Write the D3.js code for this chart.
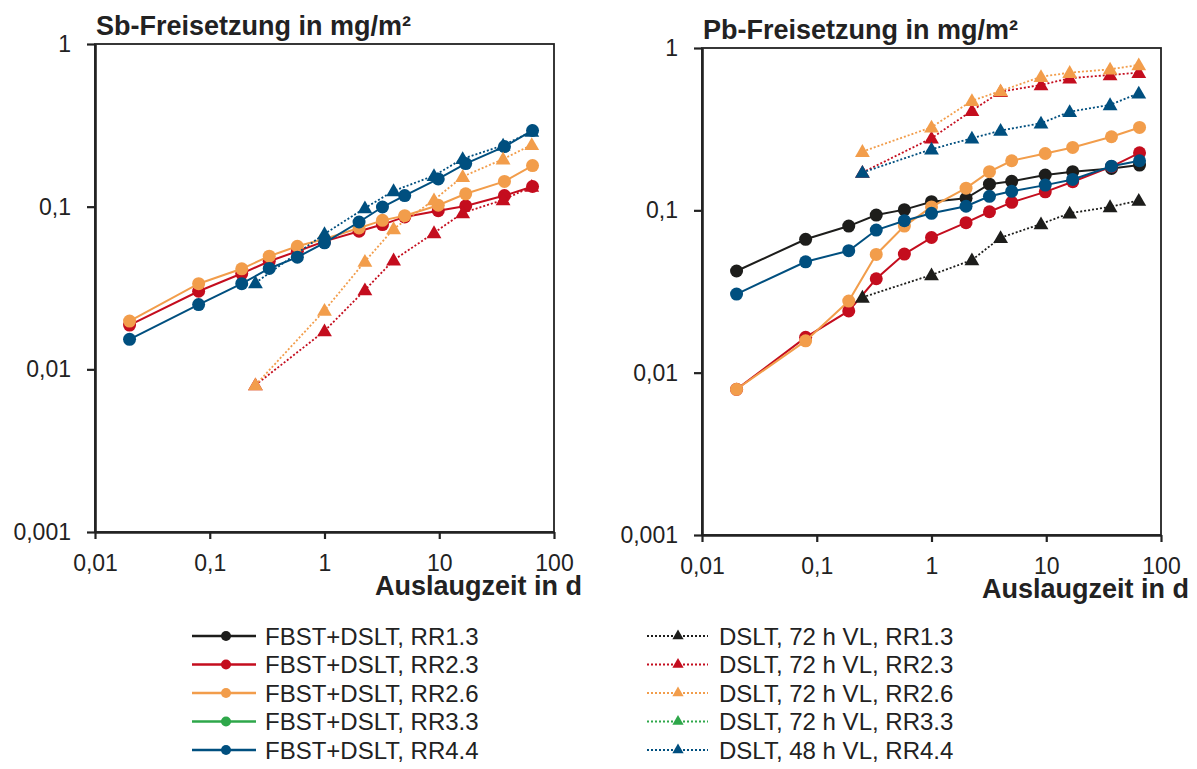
<!DOCTYPE html>
<html lang="de">
<head>
<meta charset="UTF-8">
<title>Sb- und Pb-Freisetzung</title>
<script src="https://d3js.org/d3.v7.min.js"></script>
<style>
    body { margin: 0; background: #fff; }
    svg text { font-family: "Liberation Sans", Arial, sans-serif; fill: #222; }
    .tick text { font-size: 23px; }
    .panel-title, .x-title { font-size: 27px; font-weight: bold; }
    .legend text { font-size: 24px; }
</style>
</head>
<body>
<svg id="chart" width="1197" height="769"></svg>
<script>
// time axis (days)
const tFbst = [0.02, 0.08, 0.19, 0.33, 0.58, 1, 2, 3.2, 5, 9.8, 17, 37, 65];
const tDslt = [0.25, 1, 2.25, 4, 9, 16, 36, 64];

const xTicks = [0.01, 0.1, 1, 10, 100];
const yTicks = [0.001, 0.01, 0.1, 1];

// Sb release, mg/m²
const sbFbst23 = [0.0187, 0.0302, 0.0388, 0.0462, 0.0532, 0.0612, 0.0706, 0.0776, 0.0865, 0.0945, 0.101, 0.117, 0.133];
const sbFbst26 = [0.0198, 0.0336, 0.0415, 0.0496, 0.0571, 0.0633, 0.074, 0.0824, 0.088, 0.102, 0.12, 0.143, 0.179];
const sbFbst44 = [0.0153, 0.025, 0.0336, 0.0417, 0.0489, 0.0599, 0.0805, 0.0995, 0.117, 0.148, 0.184, 0.234, 0.294];
const sbDslt23 = [0.008, 0.0172, 0.0307, 0.0469, 0.069, 0.0915, 0.110, 0.133];
const sbDslt26 = [0.008, 0.023, 0.046, 0.073, 0.110, 0.153, 0.196, 0.240];
const sbDslt44 = [0.034, 0.068, 0.098, 0.125, 0.155, 0.197, 0.238, 0.29];

// Pb release, mg/m²
const pbFbst13 = [0.0423, 0.0663, 0.080, 0.0935, 0.101, 0.113, 0.1186, 0.145, 0.151, 0.165, 0.173, 0.181, 0.19];
const pbFbst23 = [0.0079, 0.0165, 0.024, 0.0379, 0.0538, 0.068, 0.084, 0.098, 0.112, 0.130, 0.150, 0.186, 0.226];
const pbFbst26 = [0.0079, 0.0157, 0.0276, 0.0535, 0.080, 0.105, 0.137, 0.173, 0.202, 0.224, 0.244, 0.284, 0.324];
const pbFbst44 = [0.0305, 0.0482, 0.0564, 0.0756, 0.0863, 0.0959, 0.106, 0.122, 0.131, 0.143, 0.155, 0.187, 0.202];
const pbDslt13 = [0.0291, 0.040, 0.0494, 0.0678, 0.0824, 0.096, 0.105, 0.115];
const pbDslt23 = [0.171, 0.278, 0.411, 0.538, 0.592, 0.651, 0.682, 0.705];
const pbDslt26 = [0.230, 0.325, 0.473, 0.543, 0.665, 0.705, 0.739, 0.786];
const pbDslt44 = [0.171, 0.238, 0.278, 0.310, 0.344, 0.405, 0.446, 0.526];

const legendLeft = ["FBST+DSLT, RR1.3", "FBST+DSLT, RR2.3", "FBST+DSLT, RR2.6", "FBST+DSLT, RR3.3", "FBST+DSLT, RR4.4"];
const legendRight = ["DSLT, 72 h VL, RR1.3", "DSLT, 72 h VL, RR2.3", "DSLT, 72 h VL, RR2.6", "DSLT, 72 h VL, RR3.3", "DSLT, 48 h VL, RR4.4"];

const colors = {
    rr13: "#1d1d1b",
    rr23: "#c40d1e",
    rr26: "#f29d4b",
    rr33: "#2ea74a",
    rr44: "#004f7f"
};
const legendColors = [colors.rr13, colors.rr23, colors.rr26, colors.rr33, colors.rr44];

const svg = d3.select("#chart");
const fmt = d => String(d).replace(".", ",");
const triangle = d3.symbol().type(d3.symbolTriangle);

function drawPanel(p) {
    let x = d3.scaleLog().domain([0.01, 100]).range([p.left, p.right]);
    let y = d3.scaleLog().domain([0.001, 1]).range([p.bottom, p.top]);
    let g = svg.append("g");

    // frame (top/right)
    g.append("rect")
        .attr("x", p.left).attr("y", p.top)
        .attr("width", p.right - p.left).attr("height", p.bottom - p.top)
        .attr("fill", "none").attr("stroke", "#222").attr("stroke-width", 1.8);

    let yAxis = g.append("g")
        .attr("transform", "translate(" + p.left + ",0)")
        .call(d3.axisLeft(y).tickValues(yTicks).tickFormat(fmt).tickSize(8).tickSizeOuter(0).tickPadding(16));
    let xAxis = g.append("g")
        .attr("transform", "translate(0," + p.bottom + ")")
        .call(d3.axisBottom(x).tickValues(xTicks).tickFormat(fmt).tickSize(7).tickSizeOuter(0).tickPadding(16));
    [xAxis, yAxis].forEach(a => {
        a.select(".domain").attr("stroke", "#222").attr("stroke-width", 2.6);
        a.selectAll(".tick line").attr("stroke", "#222").attr("stroke-width", 2.2);
        a.selectAll(".tick text").attr("fill", "#222");
    });

    g.append("text").attr("class", "panel-title")
        .attr("x", p.left + 1).attr("y", p.top - 9)
        .text(p.title);
    g.append("text").attr("class", "x-title")
        .attr("x", p.right + 28).attr("y", p.bottom + 63)
        .attr("text-anchor", "end")
        .text("Auslaugzeit in d");

    let line = d3.line().x(d => x(d[0])).y(d => y(d[1]));

    // solid series with circles
    p.fbst.forEach(s => {
        let pts = tFbst.map((t, i) => [t, s.values[i]]);
        g.append("path").datum(pts).attr("d", line)
            .attr("fill", "none").attr("stroke", s.color).attr("stroke-width", 2);
        g.selectAll(null).data(pts).enter().append("circle")
            .attr("cx", d => x(d[0])).attr("cy", d => y(d[1])).attr("r", 6.5)
            .attr("fill", s.color);
    });

    // dotted series with triangles
    p.dslt.forEach(s => {
        let pts = tDslt.map((t, i) => [t, s.values[i]]);
        g.append("path").datum(pts).attr("d", line)
            .attr("fill", "none").attr("stroke", s.color).attr("stroke-width", 1.8)
            .attr("stroke-dasharray", "2,2");
        g.selectAll(null).data(pts).enter().append("path")
            .attr("d", triangle.size(95))
            .attr("transform", d => "translate(" + x(d[0]) + "," + (y(d[1]) + 1) + ")")
            .attr("fill", s.color);
    });
}

drawPanel({
    left: 95, right: 554, top: 44, bottom: 532,
    title: "Sb-Freisetzung in mg/m²",
    fbst: [
        {color: colors.rr23, values: sbFbst23},
        {color: colors.rr26, values: sbFbst26},
        {color: colors.rr44, values: sbFbst44}
    ],
    dslt: [
        {color: colors.rr23, values: sbDslt23},
        {color: colors.rr26, values: sbDslt26},
        {color: colors.rr44, values: sbDslt44}
    ]
});

drawPanel({
    left: 702, right: 1161, top: 48, bottom: 535,
    title: "Pb-Freisetzung in mg/m²",
    fbst: [
        {color: colors.rr13, values: pbFbst13},
        {color: colors.rr23, values: pbFbst23},
        {color: colors.rr26, values: pbFbst26},
        {color: colors.rr44, values: pbFbst44}
    ],
    dslt: [
        {color: colors.rr13, values: pbDslt13},
        {color: colors.rr23, values: pbDslt23},
        {color: colors.rr26, values: pbDslt26},
        {color: colors.rr44, values: pbDslt44}
    ]
});

// legend
let legend = svg.append("g").attr("class", "legend");
let rowY = d3.scalePoint().domain(d3.range(5)).range([636, 750]);

let leftItems = legend.selectAll(".leg-l").data(legendLeft).enter()
    .append("g").attr("class", "leg-l")
    .attr("transform", (d, i) => "translate(0," + rowY(i) + ")");
leftItems.append("line").attr("x1", 192).attr("x2", 256)
    .attr("stroke", (d, i) => legendColors[i]).attr("stroke-width", 2.5);
leftItems.append("circle").attr("cx", 226).attr("r", 5)
    .attr("fill", (d, i) => legendColors[i]);
leftItems.append("text").attr("x", 265).attr("dy", "0.36em").text(d => d);

let rightItems = legend.selectAll(".leg-r").data(legendRight).enter()
    .append("g").attr("class", "leg-r")
    .attr("transform", (d, i) => "translate(0," + rowY(i) + ")");
rightItems.append("line").attr("x1", 647).attr("x2", 708)
    .attr("stroke", (d, i) => legendColors[i]).attr("stroke-width", 1.8)
    .attr("stroke-dasharray", "2,2");
rightItems.append("path").attr("d", d3.symbol().type(d3.symbolTriangle).size(55))
    .attr("transform", "translate(678,0)")
    .attr("fill", (d, i) => legendColors[i]);
rightItems.append("text").attr("x", 719).attr("dy", "0.36em").text(d => d);
</script>
</body>
</html>
